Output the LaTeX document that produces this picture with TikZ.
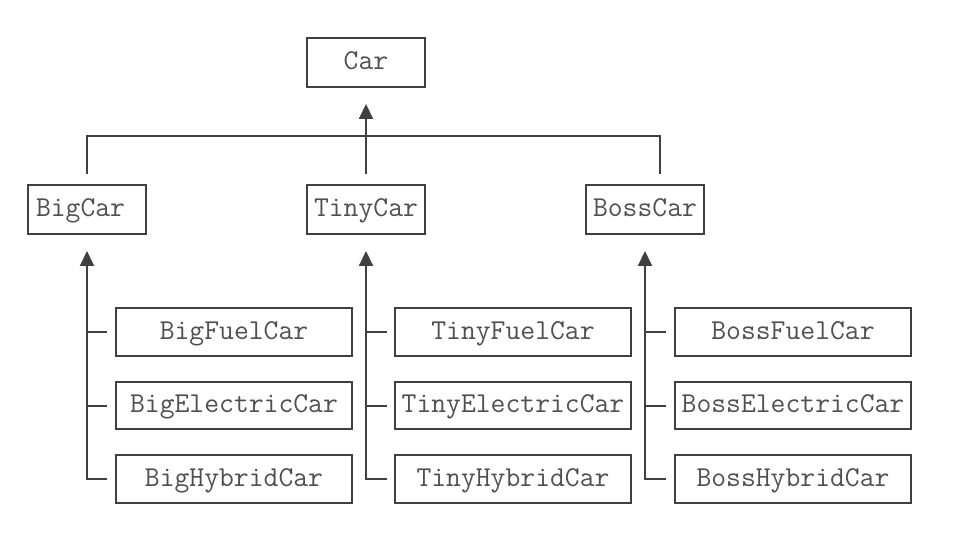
\documentclass[tikz,border=0pt]{standalone}
\usepackage{fontspec}
\usepackage{tikz}
\usetikzlibrary{calc,arrows.meta}
\usepackage{xcolor}
\definecolor{trait}{HTML}{404040}
\definecolor{texte}{HTML}{505050}

\begin{document}
\begin{tikzpicture}[x=0.02cm,y=-0.02cm]

		\useasboundingbox (0,0) rectangle (975,534);
		\tikzset{classe/.style={draw=trait, line width=0.04cm, minimum width=2.36cm, minimum height=0.98cm, inner sep=0pt, text height=0.36cm, text depth=0.08cm, text=texte, font=\ttfamily\fontsize{16.4}{19}\selectfont}}
		\tikzset{fille/.style={classe, minimum width=4.72cm, minimum height=0.96cm}}
		\tikzset{lien/.style={draw=trait, line width=0.04cm}}
		\tikzset{fleche/.style={lien, -{Triangle[width=0.28cm,length=0.3cm]}, shorten >=0.32cm}}

		\node[classe] (Car) at (366,62.5) {Car};
		\node[classe, text width=2.04cm, align=left] (BigCar) at (87,209.5) {BigCar};
		\node[classe] (TinyCar) at (366,209.5) {TinyCar};
		\node[classe] (BossCar) at (645,209.5) {BossCar};

		\node[fille] (BigFuelCar) at (234,332) {BigFuelCar};
		\node[fille] (BigElectricCar) at (234,405.5) {BigElectricCar};
		\node[fille] (BigHybridCar) at (234,479) {BigHybridCar};

		\node[fille] (TinyFuelCar) at (513,332) {TinyFuelCar};
		\node[fille] (TinyElectricCar) at (513,405.5) {TinyElectricCar};
		\node[fille] (TinyHybridCar) at (513,479) {TinyHybridCar};

		\node[fille] (BossFuelCar) at (793,332) {BossFuelCar};
		\node[fille] (BossElectricCar) at (793,405.5) {BossElectricCar};
		\node[fille] (BossHybridCar) at (793,479) {BossHybridCar};

    % heritage vers Car
    \coordinate (Barre) at (366,136);
    \draw[lien] ([yshift=0.2cm]BigCar.north) |- (Barre) -| ([xshift=0.3cm,yshift=0.2cm]BossCar.north);
    \draw[fleche] ([yshift=0.2cm]TinyCar.north) -- (Car);

    % heritage vers BigCar
    \draw[fleche] ([xshift=-0.16cm]BigHybridCar.west) -| (BigCar);
    \draw[lien] ([xshift=-0.16cm]BigFuelCar.west) -- (BigCar.south |- BigFuelCar.west);
    \draw[lien] ([xshift=-0.16cm]BigElectricCar.west) -- (BigCar.south |- BigElectricCar.west);

    % heritage vers TinyCar
    \draw[fleche] ([xshift=-0.14cm]TinyHybridCar.west) -| (TinyCar);
    \draw[lien] ([xshift=-0.14cm]TinyFuelCar.west) -- (TinyCar.south |- TinyFuelCar.west);
    \draw[lien] ([xshift=-0.14cm]TinyElectricCar.west) -- (TinyCar.south |- TinyElectricCar.west);

    % heritage vers BossCar
    \draw[fleche] ([xshift=-0.16cm]BossHybridCar.west) -| (BossCar);
    \draw[lien] ([xshift=-0.16cm]BossFuelCar.west) -- (BossCar.south |- BossFuelCar.west);
    \draw[lien] ([xshift=-0.16cm]BossElectricCar.west) -- (BossCar.south |- BossElectricCar.west);

		\end{tikzpicture}
\end{document}
